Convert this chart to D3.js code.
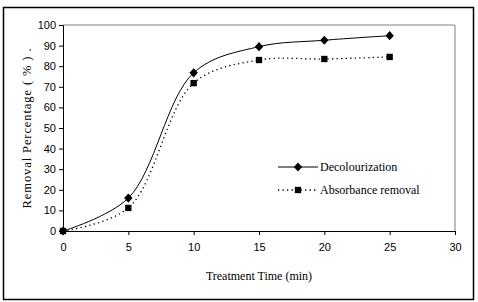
<!DOCTYPE html>
<html><head><meta charset="utf-8">
<script src="https://cdn.jsdelivr.net/npm/d3@7"></script>
<style>body{margin:0;background:#fff}</style>
</head><body>
<svg id="c" width="478" height="302"></svg>
<script>
const times = [0, 5, 10, 15, 20, 25];
const decolourization = [0, 16, 76.8, 89.5, 92.6, 94.8];
const absorbance = [0, 11.2, 71.8, 83, 83.5, 84.5];
const xTicks = [0, 5, 10, 15, 20, 25, 30];
const yTicks = [0, 10, 20, 30, 40, 50, 60, 70, 80, 90, 100];
const seriesNames = ["Decolourization", "Absorbance removal"];

const svg = d3.select("#c");
svg.append("rect").attr("x", 3.5).attr("y", 7.5).attr("width", 470).attr("height", 292)
  .attr("fill", "#fff").attr("stroke", "#000").attr("stroke-width", 1.5);

const x = d3.scaleLinear().domain([0, 30]).range([63, 455]);
const y = d3.scaleLinear().domain([0, 100]).range([231, 25]);

svg.append("path").attr("d", `M${x(0)},${y(100)}H${x(30)}V${y(0)}`)
  .attr("fill", "none").attr("stroke", "#808080").attr("stroke-width", 1);

const xa = svg.append("g").attr("transform", `translate(0,${y(0)})`)
  .call(d3.axisBottom(x).tickValues(xTicks).tickSize(4).tickPadding(8));
const ya = svg.append("g").attr("transform", `translate(${x(0)},0)`)
  .call(d3.axisLeft(y).tickValues(yTicks).tickSize(4).tickPadding(3));
[xa, ya].forEach(a => {
  a.selectAll("path,line").attr("stroke", "#000").attr("stroke-width", 1);
  a.selectAll("text").attr("font-family", "Liberation Sans, Arial, sans-serif")
    .attr("font-size", 11).attr("fill", "#000");
});

const line = d3.line().x((d, i) => x(times[i])).y(d => y(d)).curve(d3.curveCatmullRom.alpha(0.5));

svg.append("path").datum(decolourization).attr("d", line)
  .attr("fill", "none").attr("stroke", "#000").attr("stroke-width", 1);
svg.append("path").datum(absorbance).attr("d", line)
  .attr("fill", "none").attr("stroke", "#000").attr("stroke-width", 1.3)
  .attr("stroke-dasharray", "1.3,3.2");

const diamondType = { draw(ctx) { ctx.moveTo(0, -4.6); ctx.lineTo(4.2, 0); ctx.lineTo(0, 4.6); ctx.lineTo(-4.2, 0); ctx.closePath(); } };
const diamond = d3.symbol().type(diamondType);
const square = d3.symbol().type(d3.symbolSquare).size(40);

svg.selectAll(".dm").data(decolourization).join("path")
  .attr("transform", (d, i) => `translate(${x(times[i])},${y(d)})`)
  .attr("d", diamond).attr("fill", "#000");
svg.selectAll(".sq").data(absorbance).join("path")
  .attr("transform", (d, i) => `translate(${x(times[i])},${y(d)})`)
  .attr("d", square).attr("fill", "#000");

const lg = svg.append("g");
lg.append("line").attr("x1", 278).attr("x2", 318).attr("y1", 167).attr("y2", 167)
  .attr("stroke", "#000").attr("stroke-width", 1);
lg.append("path").attr("transform", "translate(298,167)").attr("d", diamond).attr("fill", "#000");
lg.append("text").attr("x", 320).attr("y", 171).text(seriesNames[0]);
lg.append("line").attr("x1", 278).attr("x2", 318).attr("y1", 190).attr("y2", 190)
  .attr("stroke", "#000").attr("stroke-width", 1.3).attr("stroke-dasharray", "1.3,3.2");
lg.append("path").attr("transform", "translate(298,190)").attr("d", square).attr("fill", "#000");
lg.append("text").attr("x", 320).attr("y", 194).text(seriesNames[1]);
lg.selectAll("text").attr("font-family", "Liberation Serif, Times New Roman, serif")
  .attr("font-size", 12).attr("fill", "#000");

svg.append("text").attr("x", 259).attr("y", 280).attr("text-anchor", "middle")
  .attr("font-family", "Liberation Serif, Times New Roman, serif").attr("font-size", 12)
  .text("Treatment Time (min)");
svg.append("text").attr("transform", "translate(31,128) rotate(-90)")
  .attr("text-anchor", "middle")
  .attr("font-family", "Liberation Serif, Times New Roman, serif").attr("font-size", 12.5)
  .attr("letter-spacing", 0.9)
  .text("Removal Percentage ( % )  .");
</script>
</body></html>
